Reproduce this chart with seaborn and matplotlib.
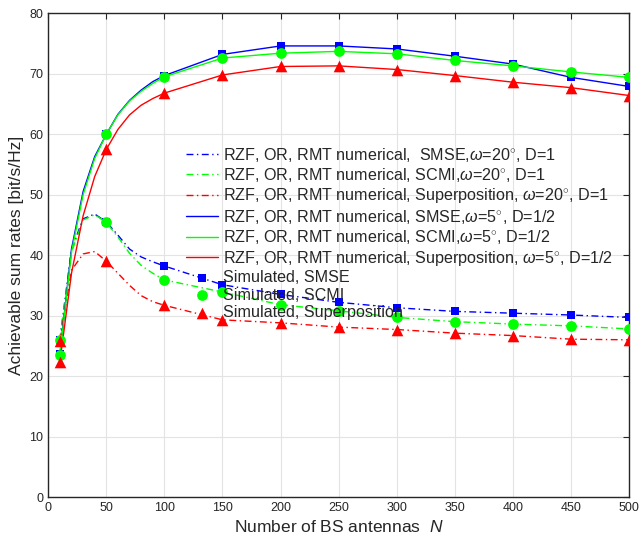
'''
Achievable sum rates vs number of BS antennas
'''
import seaborn as sns
import matplotlib
matplotlib.use('Agg')
import matplotlib.pyplot as plt
import pandas as pd

# numerical curves (RMT)
n_curve = [10, 20, 30, 40, 50, 60, 70, 80, 90, 100,
           150, 200, 250, 300, 350, 400, 450, 500]

smse_w20 = [26.0, 41.0, 46.0, 46.8, 45.5, 43.3, 41.0, 39.7, 38.9, 38.2,
            35.1, 33.5, 32.2, 31.3, 30.7, 30.4, 30.1, 29.7]
scmi_w20 = [26.0, 40.5, 45.8, 46.7, 45.4, 43.0, 40.3, 38.3, 37.0, 35.9,
            33.9, 31.8, 30.8, 29.7, 29.0, 28.6, 28.3, 27.8]
sup_w20 = [25.8, 37.5, 40.2, 40.6, 39.0, 37.0, 35.0, 33.3, 32.3, 31.7,
           29.3, 28.8, 28.1, 27.7, 27.1, 26.7, 26.1, 26.0]

smse_w5 = [23.6, 41.0, 50.5, 56.3, 60.0, 63.3, 65.6, 67.3, 68.7, 69.7,
           73.2, 74.6, 74.6, 74.1, 72.9, 71.6, 69.4, 67.9]
scmi_w5 = [23.5, 40.5, 50.0, 56.0, 60.0, 63.2, 65.5, 67.1, 68.4, 69.5,
           72.6, 73.4, 73.7, 73.3, 72.2, 71.3, 70.3, 69.4]
sup_w5 = [22.3, 37.0, 46.5, 53.0, 57.5, 60.8, 63.2, 64.8, 65.9, 66.8,
          69.8, 71.2, 71.3, 70.7, 69.7, 68.6, 67.7, 66.4]

# simulated points
n_sim = [10, 50, 100, 150, 200, 250, 300, 350, 400, 450, 500]

labels = [
    r'RZF, OR, RMT numerical,  SMSE,$\omega$=20$^{\circ}$, D=1',
    r'RZF, OR, RMT numerical, SCMI,$\omega$=20$^{\circ}$, D=1',
    r'RZF, OR, RMT numerical, Superposition, $\omega$=20$^{\circ}$, D=1',
    r'RZF, OR, RMT numerical, SMSE,$\omega$=5$^{\circ}$, D=1/2',
    r'RZF, OR, RMT numerical, SCMI,$\omega$=5$^{\circ}$, D=1/2',
    r'RZF, OR, RMT numerical, Superposition, $\omega$=5$^{\circ}$, D=1/2',
]
sim_labels = ['Simulated, SMSE', 'Simulated, SCMI', 'Simulated, Superposition']

sns.set_style('white')
plt.rcParams['font.family'] = ['Liberation Sans', 'DejaVu Sans']
plt.rcParams['mathtext.fontset'] = 'custom'
plt.rcParams['mathtext.it'] = 'Liberation Sans:italic'
plt.rcParams['mathtext.rm'] = 'Liberation Sans'

fig = plt.figure(figsize=(6.39, 5.42), dpi=100)
ax = fig.add_axes([0.0755, 0.083, 0.909, 0.8925])

colors = ['#0000ff', '#00ff00', '#ff0000']
dashdot = (0, (5, 2.5, 1, 2.5))

curves = [smse_w20, scmi_w20, sup_w20, smse_w5, scmi_w5, sup_w5]
handles = []
for i, vals in enumerate(curves):
    df = pd.DataFrame({'N': n_curve, 'rate': vals})
    sns.lineplot(x='N', y='rate', data=df, ax=ax, color=colors[i % 3],
                 estimator=None, lw=1.0)
    ln = ax.lines[-1]
    if i < 3:
        ln.set_linestyle(dashdot)
    handles.append(ln)

# simulated markers sit on both curve families
markers = ['s', 'o', '^']
msizes = [36, 60, 70]
idx = [n_curve.index(n) for n in n_sim]
for k in range(3):
    y1 = [curves[k][j] for j in idx]
    y2 = [curves[k + 3][j] for j in idx]
    df = pd.DataFrame({'N': n_sim + n_sim, 'rate': y1 + y2})
    sns.scatterplot(x='N', y='rate', data=df, ax=ax, color=colors[k],
                    marker=markers[k], s=msizes[k], linewidth=0, zorder=3)
    handles.append(ax.collections[-1])

ax.set_xlim(0, 500)
ax.set_ylim(0, 80)
ax.set_xticks(range(0, 501, 50))
ax.set_yticks(range(0, 81, 10))
ax.grid(True, color='#e3e3e3', lw=0.8)
ax.tick_params(direction='in', top=True, right=True, length=4,
               labelsize=9, colors='#262626', width=0.8)
for s in ax.spines.values():
    s.set_color('#262626')
    s.set_linewidth(1.0)

ax.set_xlabel('Number of BS antennas  $N$', fontsize=12.5, color='#262626')
ax.set_ylabel('Achievable sum rates [bit/s/Hz]', fontsize=12.5,
              color='#262626', labelpad=4)

leg = ax.legend(handles, labels + sim_labels, loc='upper left',
                bbox_to_anchor=(0.223, 0.743), frameon=False, fontsize=11.6,
                handlelength=2.0, handletextpad=0.3, labelspacing=0.15,
                borderpad=0)

fig.savefig('out.png', dpi=100)
plt.close(fig)
